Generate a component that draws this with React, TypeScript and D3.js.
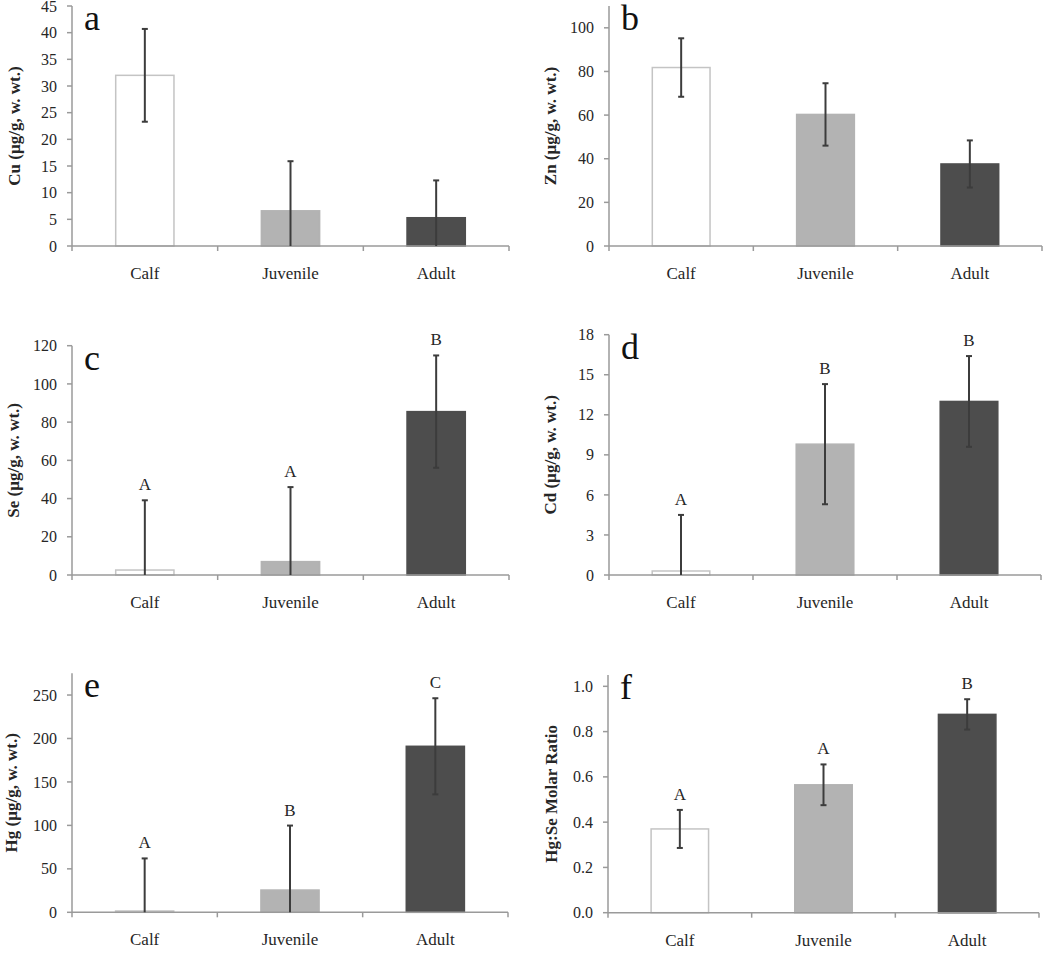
import React from "react";
import * as d3 from "d3";

const categories = ["Calf", "Juvenile", "Adult"];
const panelLetters = ["a", "b", "c", "d", "e", "f"];
const yLabels = [
  "Cu (µg/g, w. wt.)",
  "Zn (µg/g, w. wt.)",
  "Se (µg/g, w. wt.)",
  "Cd (µg/g, w. wt.)",
  "Hg (µg/g, w. wt.)",
  "Hg:Se Molar Ratio",
];

const meansA = [32.0, 6.6, 5.3];
const errA = [8.7, 9.3, 7.0];
const meansB = [81.8, 60.3, 37.6];
const errB = [13.4, 14.3, 10.8];
const meansC = [2.6, 7.0, 85.5];
const errC = [36.5, 39.0, 29.4];
const meansD = [0.3, 9.8, 13.0];
const errD = [4.2, 4.5, 3.4];
const meansE = [1.5, 25.6, 191];
const errE = [60.5, 74.2, 55.3];
const meansF = [0.37, 0.565, 0.876];
const errF = [0.084, 0.09, 0.067];

const sigA: string[] = [];
const sigB: string[] = [];
const sigC = ["A", "A", "B"];
const sigD = ["A", "B", "B"];
const sigE = ["A", "B", "C"];
const sigF = ["A", "A", "B"];

const yMaxes = [45, 110, 120, 18, 275, 1.05];
const yTickSteps = [5, 20, 20, 3, 50, 0.2];
const yTickFormats = ["d", "d", "d", "d", "d", ".1f"];

// layout (plot-area boxes in pixels)
const layout = [
  { left: 72, right: 509, top: 6, bottom: 246, labelX: 14 },
  { left: 609, right: 1042, top: 6, bottom: 246, labelX: 550 },
  { left: 72, right: 509, top: 345.7, bottom: 575, labelX: 13 },
  { left: 609, right: 1041, top: 334.7, bottom: 575, labelX: 550 },
  { left: 72, right: 508, top: 673.3, bottom: 912.3, labelX: 11 },
  { left: 608, right: 1039, top: 675, bottom: 912.7, labelX: 551 },
];

const barFills = ["#ffffff", "#b3b3b3", "#4d4d4d"];
const barStrokes = ["#c4c4c4", "#b3b3b3", "#4d4d4d"];
const axisColor = "#9a9a9a";
const textColor = "#262626";
const errColor = "#3c3c3c";
const FONT = "'Liberation Serif', 'DejaVu Serif', serif";

const panels = [
  { means: meansA, errs: errA, sig: sigA },
  { means: meansB, errs: errB, sig: sigB },
  { means: meansC, errs: errC, sig: sigC },
  { means: meansD, errs: errD, sig: sigD },
  { means: meansE, errs: errE, sig: sigE },
  { means: meansF, errs: errF, sig: sigF },
];

function Panel({ i }: { i: number }) {
  const L = layout[i];
  const p = panels[i];
  const x = d3
    .scaleBand<string>()
    .domain(categories)
    .range([L.left, L.right])
    .paddingInner(0.6)
    .paddingOuter(0.3);
  const y = d3.scaleLinear().domain([0, yMaxes[i]]).range([L.bottom, L.top]);
  const step = yTickSteps[i];
  const ticks = d3
    .range(0, Math.floor(yMaxes[i] / step + 1e-6) + 1)
    .map((k) => k * step);
  const fmt = d3.format(yTickFormats[i]);
  const bounds = d3.range(0, categories.length + 1).map((k) => L.left + k * x.step());
  const capW = 3;

  return (
    <g>
      {/* bars */}
      {categories.map((c, j) => (
        <rect
          key={c}
          x={x(c)!}
          y={y(p.means[j])}
          width={x.bandwidth()}
          height={L.bottom - y(p.means[j])}
          fill={barFills[j]}
          stroke={barStrokes[j]}
          strokeWidth={1.5}
        />
      ))}
      {/* axes */}
      <line x1={L.left} x2={L.left} y1={L.top} y2={L.bottom} stroke={axisColor} strokeWidth={1.5} />
      <line x1={L.left} x2={L.right} y1={L.bottom} y2={L.bottom} stroke={axisColor} strokeWidth={1.5} />
      {ticks.map((t) => (
        <g key={t}>
          <line x1={L.left - 5} x2={L.left} y1={y(t)} y2={y(t)} stroke={axisColor} strokeWidth={1.5} />
          <text
            x={L.left - 15}
            y={y(t)}
            dy="0.35em"
            textAnchor="end"
            fontSize={16}
            fontFamily={FONT}
            fill={textColor}
          >
            {fmt(t)}
          </text>
        </g>
      ))}
      {bounds.map((bx, k) => (
        <line key={k} x1={bx} x2={bx} y1={L.bottom} y2={L.bottom + 5} stroke={axisColor} strokeWidth={1.5} />
      ))}
      {categories.map((c) => (
        <text
          key={c}
          x={x(c)! + x.bandwidth() / 2}
          y={L.bottom + 33}
          textAnchor="middle"
          fontSize={17}
          fontFamily={FONT}
          fill={textColor}
        >
          {c}
        </text>
      ))}
      {/* error bars */}
      {categories.map((c, j) => {
        const cx = x(c)! + x.bandwidth() / 2;
        const lo = p.means[j] - p.errs[j];
        const hi = p.means[j] + p.errs[j];
        const yHi = y(hi);
        const yLo = y(Math.max(0, lo));
        return (
          <g key={c}>
            <line x1={cx} x2={cx} y1={yHi} y2={yLo} stroke={errColor} strokeWidth={2} />
            <line x1={cx - capW} x2={cx + capW} y1={yHi} y2={yHi} stroke={errColor} strokeWidth={2} />
            {lo > 0 && (
              <line x1={cx - capW} x2={cx + capW} y1={yLo} y2={yLo} stroke={errColor} strokeWidth={2} />
            )}
            {p.sig[j] && (
              <text
                x={cx}
                y={yHi - 10}
                textAnchor="middle"
                fontSize={17}
                fontFamily={FONT}
                fill={textColor}
              >
                {p.sig[j]}
              </text>
            )}
          </g>
        );
      })}
      {/* panel letter */}
      <text x={L.left + 12} y={L.top + 24} fontSize={36} fontFamily={FONT} fill="#111">
        {panelLetters[i]}
      </text>
      {/* y label */}
      <text
        transform={`translate(${L.labelX},${(L.top + L.bottom) / 2}) rotate(-90)`}
        dy="0.35em"
        textAnchor="middle"
        fontSize={17}
        fontWeight="bold"
        fontFamily={FONT}
        fill={textColor}
      >
        {yLabels[i]}
      </text>
    </g>
  );
}

export default function App() {
  return (
    <svg
      width={1050}
      height={958}
      style={{ position: "absolute", left: 0, top: 0, background: "#fff" }}
    >
      <rect width={1050} height={958} fill="#fff" />
      {layout.map((_, i) => (
        <Panel key={i} i={i} />
      ))}
    </svg>
  );
}
